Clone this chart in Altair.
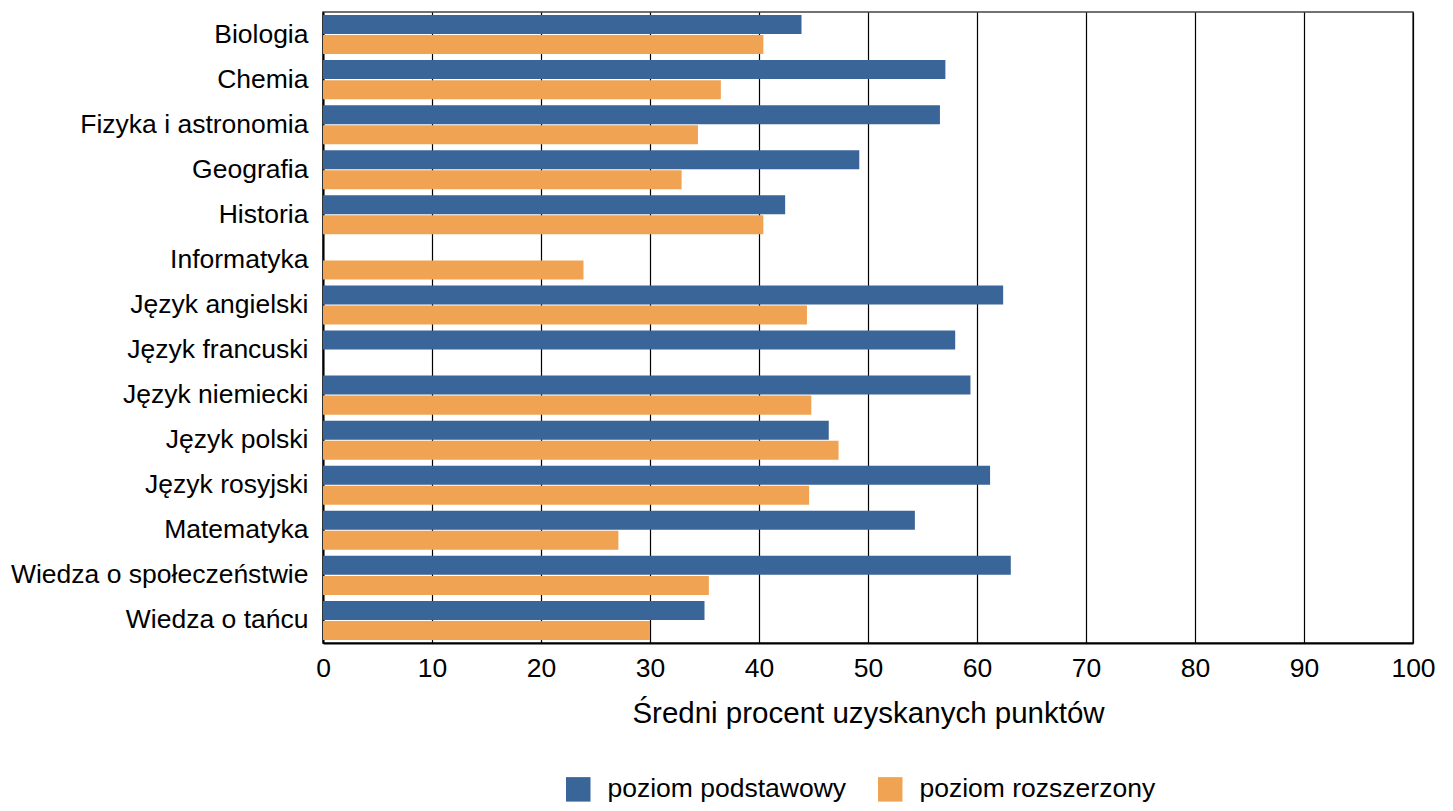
import altair as alt
import pandas as pd

subjects = ["Biologia", "Chemia", "Fizyka i astronomia", "Geografia", "Historia",
            "Informatyka", "Język angielski", "Język francuski", "Język niemiecki",
            "Język polski", "Język rosyjski", "Matematyka", "Wiedza o społeczeństwie",
            "Wiedza o tańcu"]
podstawowy = [43.9, 57.1, 56.6, 49.2, 42.4, None, 62.4, 58.0, 59.4, 46.4, 61.2, 54.3, 63.1, 35.0]
rozszerzony = [40.4, 36.5, 34.4, 32.9, 40.4, 23.9, 44.4, None, 44.8, 47.3, 44.6, 27.1, 35.4, 30.0]
levels = ["poziom podstawowy", "poziom rozszerzony"]
colors = ["#3A6598", "#F0A453"]
x_ticks = [0, 10, 20, 30, 40, 50, 60, 70, 80, 90, 100]

rows = []
for s, p, r in zip(subjects, podstawowy, rozszerzony):
    if p is not None:
        rows.append({"przedmiot": s, "poziom": levels[0], "wartosc": p})
    if r is not None:
        rows.append({"przedmiot": s, "poziom": levels[1], "wartosc": r})
df = pd.DataFrame(rows)

font = "Liberation Sans"

chart = alt.Chart(df).mark_bar().encode(
    y=alt.Y("przedmiot:N", sort=subjects, title=None,
            scale=alt.Scale(domain=subjects, paddingInner=0.133, paddingOuter=0.067),
            axis=alt.Axis(labelFont=font, labelFontSize=26.5, labelColor="black",
                          ticks=False, labelPadding=15, domainColor="black",
                          domainWidth=2, grid=False, labelLimit=500)),
    yOffset=alt.YOffset("poziom:N", sort=levels,
                        scale=alt.Scale(domain=levels, paddingInner=0.05, paddingOuter=0)),
    x=alt.X("wartosc:Q", title="Średni procent uzyskanych punktów",
            scale=alt.Scale(domain=[0, 100], nice=False),
            axis=alt.Axis(values=x_ticks, labelFont=font, labelFontSize=26.5, labelColor="black",
                          ticks=False, labelPadding=12, labelFlush=False,
                          domainColor="black", domainWidth=2,
                          grid=True, gridColor="black", gridWidth=1.2,
                          titleFont=font, titleFontSize=29.5, titleFontWeight="normal",
                          titleColor="black", titlePadding=18)),
    color=alt.Color("poziom:N", sort=levels,
                    scale=alt.Scale(domain=levels, range=colors),
                    legend=alt.Legend(title=None, orient="none", direction="horizontal",
                                      legendX=242, legendY=764,
                                      symbolType="square", symbolSize=600,
                                      symbolStrokeWidth=0, symbolOpacity=1,
                                      labelFont=font, labelFontSize=26.5, labelColor="black",
                                      labelLimit=500,
                                      labelOffset=16, columnPadding=30, padding=0)),
).properties(
    width=1090, height=631,
    padding={"left": 315, "top": 4, "right": 32, "bottom": 160},
    autosize="none",
).configure_view(stroke="#444", strokeWidth=1.5)

chart.save("out.html", embed_options={"renderer": "svg", "actions": False})
